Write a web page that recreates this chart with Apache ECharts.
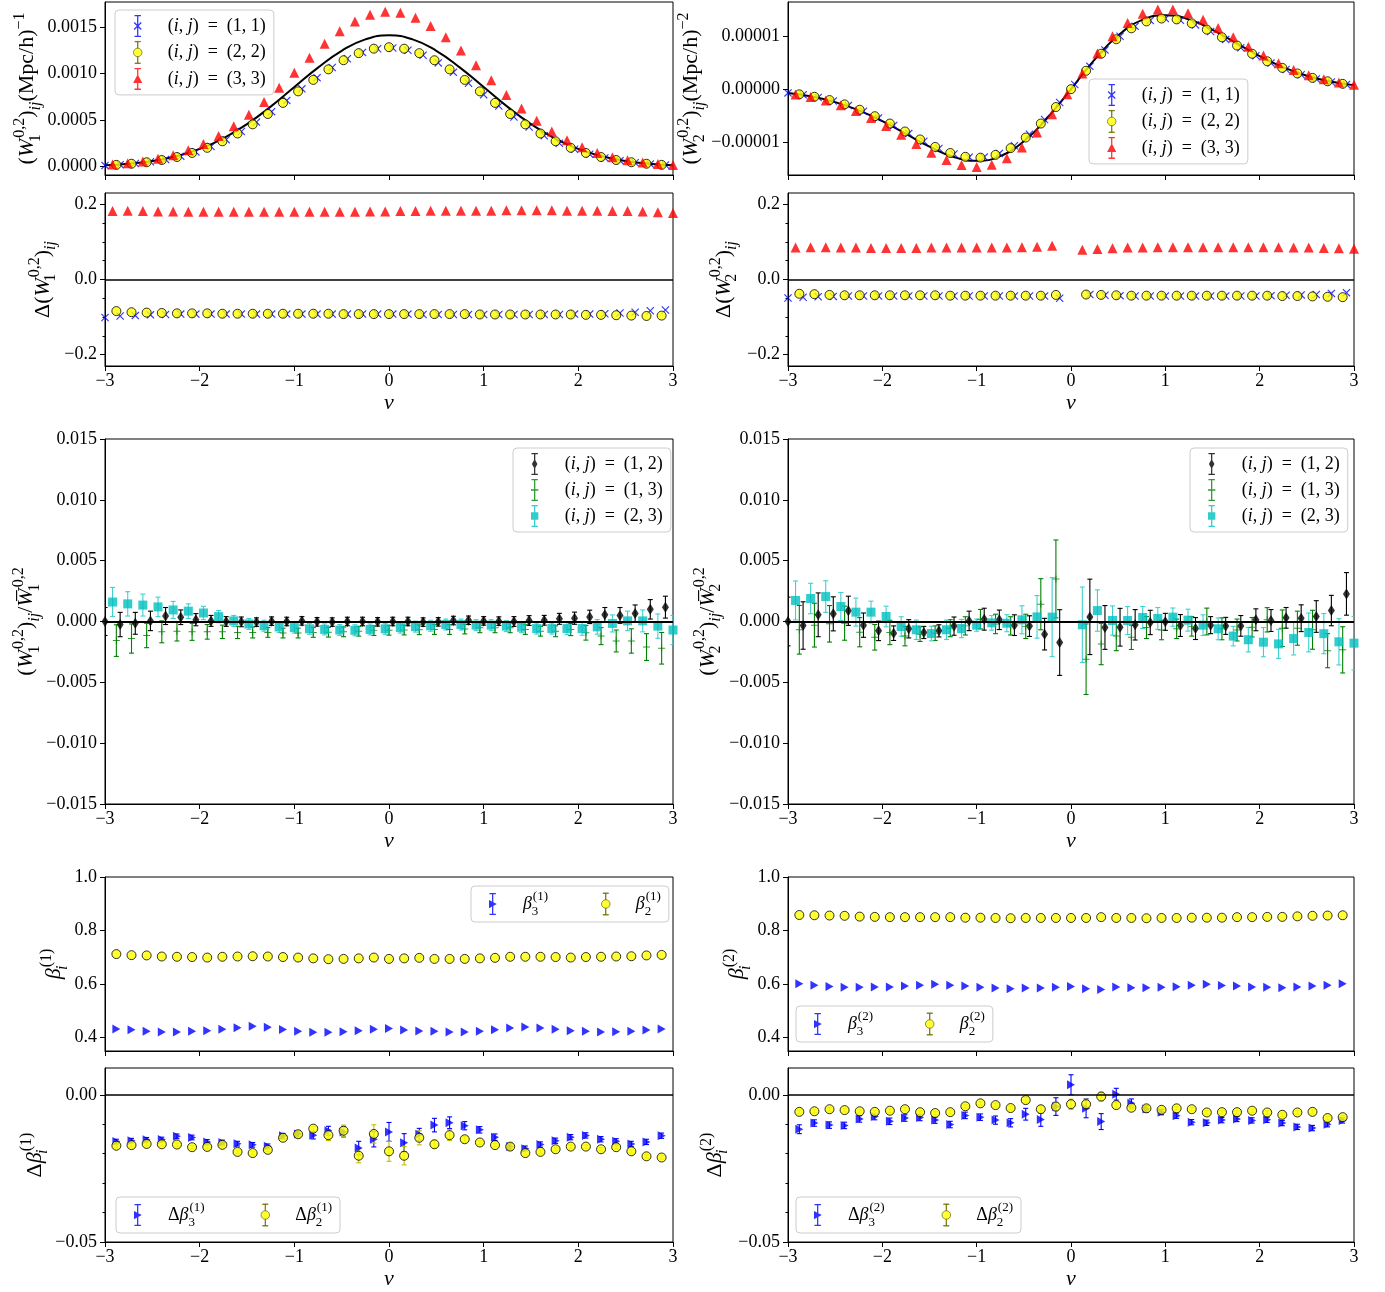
<!DOCTYPE html>
<html><head><meta charset="utf-8">
<script src="https://cdn.jsdelivr.net/npm/echarts@6/dist/echarts.min.js"></script>
<style>html,body{margin:0;padding:0;background:#fff}#c{width:1385px;height:1292px}</style>
</head><body><div id="c"></div>
<script>
// ---------------- DATA ----------------
const NU_A = [-3.00,-2.84,-2.68,-2.52,-2.36,-2.20,-2.04,-1.88,-1.72,-1.56,-1.40,-1.24,-1.08,-0.92,-0.76,-0.60,-0.44,-0.28,-0.12,0.04,0.20,0.36,0.52,0.68,0.84,1.00,1.16,1.32,1.48,1.64,1.80,1.96,2.12,2.28,2.44,2.60,2.76,2.92];
const NU_B = [-2.92,-2.76,-2.60,-2.44,-2.28,-2.12,-1.96,-1.80,-1.64,-1.48,-1.32,-1.16,-1.00,-0.84,-0.68,-0.52,-0.36,-0.20,-0.04,0.12,0.28,0.44,0.60,0.76,0.92,1.08,1.24,1.40,1.56,1.72,1.88,2.04,2.20,2.36,2.52,2.68,2.84,3.00];
const NU_C = [-2.88,-2.72,-2.56,-2.40,-2.24,-2.08,-1.92,-1.76,-1.60,-1.44,-1.28,-1.12,-0.96,-0.80,-0.64,-0.48,-0.32,-0.16,0.00,0.16,0.32,0.48,0.64,0.80,0.96,1.12,1.28,1.44,1.60,1.76,1.92,2.08,2.24,2.40,2.56,2.72,2.88];
const NU_CURVE = [-3,-2.75,-2.5,-2.25,-2,-1.75,-1.5,-1.25,-1,-0.75,-0.5,-0.25,0,0.25,0.5,0.75,1,1.25,1.5,1.75,2,2.25,2.5,2.75,3];

// Row 1 left: W1^{0,2}
const W1_THEORY = [1.6e-5,3.2e-5,6.2e-5,1.12e-4,1.91e-4,3.05e-4,4.58e-4,6.45e-4,8.55e-4,1.064e-3,1.244e-3,1.367e-3,1.410e-3,1.367e-3,1.244e-3,1.064e-3,8.55e-4,6.45e-4,4.58e-4,3.05e-4,1.91e-4,1.12e-4,6.2e-5,3.2e-5,1.6e-5];
const W1_11 = [1.41e-5,2.26e-5,3.52e-5,5.33e-5,7.87e-5,1.134e-4,1.592e-4,2.179e-4,2.907e-4,3.78e-4,4.789e-4,5.914e-4,7.12e-4,8.358e-4,9.56e-4,1.0658e-3,1.1582e-3,1.227e-3,1.2668e-3,1.275e-3,1.2507e-3,1.196e-3,1.1145e-3,1.0128e-3,8.966e-4,7.739e-4,6.514e-4,5.34e-4,4.268e-4,3.325e-4,2.525e-4,1.869e-4,1.349e-4,9.48e-5,6.51e-5,4.34e-5,2.83e-5,1.8e-5];
const W1_22 = [2.0e-5,3.2e-5,4.8e-5,7.2e-5,1.04e-4,1.48e-4,2.03e-4,2.73e-4,3.57e-4,4.55e-4,5.66e-4,6.85e-4,8.09e-4,9.32e-4,1.045e-3,1.143e-3,1.219e-3,1.267e-3,1.283e-3,1.267e-3,1.219e-3,1.143e-3,1.045e-3,9.32e-4,8.09e-4,6.85e-4,5.66e-4,4.55e-4,3.57e-4,2.73e-4,2.03e-4,1.48e-4,1.04e-4,7.2e-5,4.8e-5,3.2e-5,2.0e-5];
const W1_33 = [2.3e-5,3.7e-5,5.7e-5,8.5e-5,1.24e-4,1.76e-4,2.44e-4,3.29e-4,4.34e-4,5.57e-4,6.96e-4,8.49e-4,1.009e-3,1.169e-3,1.321e-3,1.453e-3,1.56e-3,1.631e-3,1.663e-3,1.652e-3,1.6e-3,1.51e-3,1.39e-3,1.247e-3,1.09e-3,9.29e-4,7.71e-4,6.24e-4,4.93e-4,3.79e-4,2.84e-4,2.08e-4,1.48e-4,1.03e-4,7.0e-5,4.6e-5,2.9e-5,1.8e-5];
const D1_11 = [-0.101,-0.097,-0.096,-0.094,-0.093,-0.092,-0.092,-0.092,-0.092,-0.092,-0.092,-0.092,-0.092,-0.092,-0.092,-0.092,-0.092,-0.092,-0.092,-0.092,-0.092,-0.093,-0.093,-0.093,-0.093,-0.093,-0.093,-0.093,-0.093,-0.093,-0.093,-0.092,-0.092,-0.091,-0.089,-0.087,-0.083,-0.081];
const D1_22 = [-0.084,-0.087,-0.088,-0.089,-0.090,-0.090,-0.090,-0.091,-0.091,-0.091,-0.091,-0.091,-0.091,-0.091,-0.091,-0.092,-0.092,-0.092,-0.092,-0.092,-0.092,-0.092,-0.092,-0.092,-0.093,-0.093,-0.093,-0.093,-0.093,-0.093,-0.093,-0.094,-0.094,-0.095,-0.096,-0.097,-0.096];
const D1_33 = [0.182,0.183,0.182,0.181,0.181,0.180,0.180,0.180,0.180,0.180,0.180,0.180,0.180,0.180,0.180,0.180,0.180,0.181,0.181,0.182,0.182,0.183,0.183,0.183,0.183,0.183,0.184,0.184,0.184,0.184,0.183,0.183,0.183,0.182,0.182,0.181,0.179,0.177];

// Row 1 right: W2^{0,2}
const W2_THEORY = [-7.4e-7,-1.39e-6,-2.44e-6,-3.98e-6,-6.01e-6,-8.40e-6,-1.081e-5,-1.270e-5,-1.346e-5,-1.257e-5,-9.79e-6,-5.38e-6,0,5.55e-6,1.010e-5,1.296e-5,1.389e-5,1.311e-5,1.115e-5,8.67e-6,6.20e-6,4.10e-6,2.51e-6,1.44e-6,7.6e-7];
const W2_11 = [-7.0e-7,-1.07e-6,-1.57e-6,-2.23e-6,-3.09e-6,-4.15e-6,-5.4e-6,-6.81e-6,-8.31e-6,-9.8e-6,-1.114e-5,-1.218e-5,-1.278e-5,-1.277e-5,-1.207e-5,-1.063e-5,-8.47e-6,-5.71e-6,-2.5e-6,8.7e-7,4.29e-6,7.38e-6,9.93e-6,1.18e-5,1.291e-5,1.326e-5,1.295e-5,1.208e-5,1.083e-5,9.35e-6,7.79e-6,6.28e-6,4.9e-6,3.7e-6,2.72e-6,1.93e-6,1.34e-6,9.0e-7];
const W2_22 = [-9.7e-7,-1.43e-6,-2.05e-6,-2.86e-6,-3.87e-6,-5.08e-6,-6.46e-6,-7.95e-6,-9.45e-6,-1.085e-5,-1.199e-5,-1.271e-5,-1.287e-5,-1.234e-5,-1.108e-5,-9.09e-6,-6.46e-6,-3.36e-6,0,3.46e-6,6.66e-6,9.38e-6,1.143e-5,1.273e-5,1.327e-5,1.311e-5,1.237e-5,1.119e-5,9.75e-6,8.2e-6,6.66e-6,5.24e-6,4.0e-6,2.95e-6,2.12e-6,1.48e-6,1.0e-6];
const W2_33 = [-9.9e-7,-1.48e-6,-2.13e-6,-3.0e-6,-4.08e-6,-5.4e-6,-6.92e-6,-8.58e-6,-1.03e-5,-1.193e-5,-1.331e-5,-1.427e-5,-1.461e-5,-1.422e-5,-1.3e-5,-1.094e-5,-8.13e-6,-4.72e-6,-9.6e-7,2.96e-6,6.69e-6,9.93e-6,1.245e-5,1.415e-5,1.497e-5,1.497e-5,1.428e-5,1.306e-5,1.148e-5,9.74e-6,7.98e-6,6.33e-6,4.86e-6,3.62e-6,2.62e-6,1.84e-6,1.25e-6,8.3e-7];
const D2_11 = [-0.049,-0.047,-0.046,-0.045,-0.044,-0.044,-0.044,-0.044,-0.044,-0.044,-0.044,-0.044,-0.044,-0.044,-0.044,-0.044,-0.044,-0.044,-0.050,null,-0.040,-0.042,-0.043,-0.044,-0.044,-0.044,-0.044,-0.044,-0.044,-0.044,-0.044,-0.044,-0.043,-0.042,-0.041,-0.040,-0.037,-0.035];
const D2_22 = [-0.038,-0.039,-0.041,-0.042,-0.042,-0.042,-0.042,-0.042,-0.042,-0.042,-0.043,-0.043,-0.043,-0.043,-0.043,-0.043,-0.043,-0.041,null,-0.040,-0.041,-0.042,-0.043,-0.043,-0.043,-0.043,-0.043,-0.043,-0.043,-0.043,-0.043,-0.043,-0.044,-0.044,-0.045,-0.046,-0.047];
const D2_33 = [0.085,0.086,0.086,0.085,0.085,0.084,0.084,0.084,0.084,0.085,0.085,0.085,0.085,0.085,0.085,0.086,0.087,0.090,null,0.079,0.081,0.083,0.085,0.085,0.086,0.086,0.086,0.086,0.086,0.086,0.086,0.086,0.086,0.085,0.085,0.084,0.083,0.082];

// Row 2 left: cross ratios for W1
const R1_12  = [0,-0.00025,-0.00015,0.00005,0.00045,0.00035,0.00015,0.00005,0,-0.00003,-0.00005,0.00003,0,0.00005,-0.00003,-0.00005,0,0,-0.00003,0,0,-0.00005,-0.00003,0.00008,0.0001,0.00005,0.00003,0,0.00008,0.0001,0.00022,0.00027,0.00038,0.00055,0.0005,0.00066,0.001,0.00118];
const R1_12E = [0.00115,0.001,0.0009,0.0008,0.0007,0.0006,0.0005,0.00045,0.0004,0.0004,0.00035,0.00035,0.00035,0.00035,0.00035,0.00035,0.00035,0.00035,0.00035,0.00035,0.00035,0.00035,0.00035,0.00035,0.00035,0.00035,0.00035,0.0004,0.0004,0.0004,0.00045,0.0005,0.00055,0.0006,0.00065,0.0007,0.0008,0.0009];
const R1_13  = [-0.00157,-0.0014,-0.00115,-0.00085,-0.0008,-0.00085,-0.00085,-0.00085,-0.0009,-0.0009,-0.0009,-0.00095,-0.00095,-0.0009,-0.00088,-0.00085,-0.0008,-0.00075,-0.00072,-0.0007,-0.00068,-0.00066,-0.00066,-0.00062,-0.00052,-0.00052,-0.00052,-0.00066,-0.0008,-0.0008,-0.00066,-0.00093,-0.0012,-0.0016,-0.0016,-0.0021,-0.0022];
const R1_13E = [0.0013,0.0012,0.001,0.0009,0.0008,0.0007,0.0006,0.00055,0.0005,0.00045,0.0004,0.0004,0.0004,0.0004,0.0004,0.0004,0.0004,0.0004,0.0004,0.0004,0.0004,0.0004,0.0004,0.0004,0.0004,0.0004,0.0004,0.0004,0.0004,0.00045,0.0005,0.0006,0.0007,0.0009,0.001,0.0011,0.0013];
const R1_23  = [0.0016,0.00145,0.00135,0.0012,0.00095,0.00085,0.0007,0.0004,0.00005,-0.0002,-0.00035,-0.00045,-0.0005,-0.0006,-0.00065,-0.0007,-0.00072,-0.00065,-0.0006,-0.0005,-0.00042,-0.00035,-0.00025,-0.00025,-0.0003,-0.0003,-0.00038,-0.00047,-0.00058,-0.00058,-0.00058,-0.00058,-0.00044,-0.00016,0.00005,0.00005,-0.00038,-0.0007];
const R1_23E = [0.0012,0.001,0.0009,0.0008,0.0007,0.0006,0.00055,0.0005,0.00045,0.00045,0.00045,0.00045,0.00045,0.00045,0.00045,0.00045,0.00045,0.00045,0.00045,0.00045,0.00045,0.00045,0.00045,0.00045,0.00045,0.00045,0.00045,0.00045,0.00045,0.00045,0.0005,0.00055,0.0006,0.0007,0.0008,0.0009,0.001,0.0012];

// Row 2 right: cross ratios for W2
const R2_12  = [0,-0.00033,0.00055,0.00063,0.00088,-0.0003,-0.00077,-0.00096,-0.0006,-0.0009,-0.00077,-0.00038,0.00005,0.00019,0.00014,-0.0003,-0.00038,-0.00104,-0.00173,null,0.00038,-0.00049,-0.00047,-0.00027,-0.00008,-0.00003,-0.00033,-0.00058,-0.0003,-0.00036,-0.00036,0.00014,0.00008,0.0003,0.00027,0.00041,0.0009,0.00227];
const R2_12E = [0.002,0.00195,0.0018,0.0014,0.0012,0.001,0.0008,0.0006,0.00075,0.0005,0.0005,0.00075,0.0008,0.0009,0.0008,0.00085,0.00085,0.0013,0.0027,null,0.0031,0.0018,0.00155,0.00125,0.001,0.0007,0.0009,0.0009,0.0007,0.0007,0.00085,0.0009,0.0009,0.00085,0.0011,0.0013,0.00125,0.00175];
const R2_13  = [-0.00068,-0.0003,-0.00019,-0.00014,-0.00088,-0.0013,-0.0009,-0.0012,-0.00104,-0.00096,-0.00055,-0.00036,0.00019,-0.0002,-0.00036,-0.0004,0.00142,0.0035,null,-0.0031,-0.00185,-0.0012,-0.0013,-0.0005,-0.0007,-0.0006,-0.0004,0,-0.0006,-0.0007,-0.00047,0.00014,-0.00055,-0.00055,-0.00068,-0.0024,-0.00233];
const R2_13E = [0.002,0.0018,0.0015,0.0014,0.0012,0.00105,0.001,0.0008,0.0006,0.0006,0.0007,0.00075,0.0008,0.0008,0.00075,0.001,0.0021,0.0032,null,0.0029,0.0017,0.0012,0.001,0.0009,0.0008,0.0008,0.0008,0.0011,0.0009,0.0009,0.0008,0.001,0.0015,0.0014,0.0016,0.0014,0.0019];
const R2_23  = [0.00173,0.00189,0.00205,0.00123,0.00077,0.00077,0.00041,-0.00041,-0.00068,-0.00099,-0.00068,-0.00058,-0.0003,-0.00011,-0.00014,0.00014,0.00038,0.00036,null,-0.00027,0.0009,0.00008,0.00008,0.00033,0.00025,0.00036,0.00011,-0.0003,-0.0006,-0.0012,-0.0015,-0.0017,-0.00184,-0.0014,-0.0009,-0.001,-0.00167,-0.00178];
const R2_23E = [0.0016,0.00125,0.0013,0.00115,0.00115,0.0009,0.00085,0.0008,0.0008,0.0006,0.0008,0.00075,0.0005,0.0006,0.0007,0.00115,0.00175,0.00325,null,0.0031,0.0017,0.0012,0.00115,0.0009,0.0009,0.00075,0.0009,0.00085,0.0009,0.0008,0.001,0.0012,0.0012,0.00135,0.0016,0.00165,0.0019,0.0022];

// Row 3 left: beta^(1)
const B1_3 = [0.432,0.429,0.424,0.421,0.421,0.424,0.426,0.431,0.437,0.442,0.439,0.430,0.424,0.420,0.420,0.422,0.426,0.431,0.434,0.428,0.425,0.424,0.421,0.421,0.424,0.429,0.436,0.440,0.436,0.431,0.426,0.424,0.421,0.422,0.424,0.428,0.432];
const B1_2 = [0.712,0.708,0.707,0.703,0.702,0.701,0.699,0.702,0.703,0.704,0.703,0.701,0.699,0.696,0.693,0.694,0.696,0.699,0.694,0.696,0.698,0.694,0.694,0.694,0.696,0.698,0.702,0.702,0.702,0.701,0.699,0.701,0.702,0.703,0.704,0.707,0.709];
const DB1_3  = [-0.0159,-0.0156,-0.0153,-0.0152,-0.0141,-0.0145,-0.0160,-0.0162,-0.0166,-0.0170,-0.0175,-0.0139,-0.0133,-0.0137,-0.0122,-0.0126,-0.0181,-0.0151,-0.0126,-0.0163,-0.0134,-0.0103,-0.0095,-0.0105,-0.0119,-0.0144,-0.0176,-0.0183,-0.0169,-0.0156,-0.0144,-0.0138,-0.0151,-0.0158,-0.0167,-0.0160,-0.0139];
const DB1_3E = [0.0008,0.0008,0.0008,0.0008,0.0008,0.0008,0.0008,0.0008,0.0008,0.0008,0.0008,0.0008,0.001,0.0013,0.0015,0.0017,0.0023,0.0026,0.0032,0.0031,0.002,0.0023,0.002,0.0014,0.0011,0.0011,0.0011,0.0009,0.0009,0.0009,0.0009,0.0009,0.0009,0.0009,0.0009,0.0009,0.0009];
const DB1_2  = [-0.0173,-0.0171,-0.0167,-0.0168,-0.0169,-0.0178,-0.0177,-0.0170,-0.0194,-0.0198,-0.0187,-0.0146,-0.0134,-0.0115,-0.0137,-0.0122,-0.0207,-0.0133,-0.0192,-0.0207,-0.0146,-0.0168,-0.0137,-0.0151,-0.0162,-0.0171,-0.0176,-0.0198,-0.0194,-0.0185,-0.0176,-0.0176,-0.0185,-0.0178,-0.0192,-0.0209,-0.0213];
const DB1_2E = [0.0006,0.0006,0.0006,0.0006,0.0006,0.0006,0.0006,0.0006,0.0006,0.0006,0.0006,0.0006,0.0006,0.0008,0.0018,0.0019,0.0024,0.0031,0.0034,0.0031,0.0024,0.0013,0.0018,0.0009,0.0006,0.0006,0.0006,0.0006,0.0006,0.0006,0.0006,0.0006,0.0006,0.0006,0.0006,0.0006,0.0006];

// Row 3 right: beta^(2)
const B2_3 = [0.601,0.596,0.591,0.588,0.588,0.589,0.589,0.593,0.596,0.599,0.596,0.593,0.588,0.585,0.583,0.585,0.585,0.588,0.591,0.583,0.580,0.589,0.586,0.586,0.588,0.590,0.596,0.599,0.595,0.593,0.589,0.588,0.586,0.589,0.593,0.596,0.601];
const B2_2 = [0.858,0.857,0.856,0.855,0.852,0.851,0.850,0.850,0.850,0.850,0.850,0.848,0.848,0.847,0.846,0.847,0.847,0.847,0.847,0.847,0.850,0.847,0.847,0.846,0.847,0.847,0.848,0.848,0.848,0.850,0.850,0.851,0.851,0.853,0.855,0.856,0.857];
const DB2_3  = [-0.0117,-0.0096,-0.0103,-0.0104,-0.0082,-0.0074,-0.0090,-0.0079,-0.0077,-0.0086,-0.0101,-0.0070,-0.0076,-0.0086,-0.0095,-0.0066,-0.0084,-0.0040,0.0034,-0.0046,-0.0091,0.0002,-0.0029,-0.0048,-0.0059,-0.0071,-0.0093,-0.0095,-0.0086,-0.0082,-0.0087,-0.0085,-0.0096,-0.0109,-0.0113,-0.0100,-0.0087];
const DB2_3E = [0.0015,0.0011,0.0011,0.0011,0.0011,0.0011,0.0011,0.0011,0.0011,0.0011,0.0011,0.0011,0.0011,0.0014,0.0014,0.002,0.0023,0.003,0.0034,0.0032,0.0027,0.002,0.0015,0.0011,0.0009,0.0009,0.0009,0.0009,0.0009,0.0009,0.0009,0.0009,0.0009,0.0009,0.0009,0.0009,0.0009];
const DB2_2  = [-0.0058,-0.0056,-0.0049,-0.0052,-0.0056,-0.0058,-0.0054,-0.0049,-0.0059,-0.0062,-0.0059,-0.0039,-0.0029,-0.0035,-0.0045,-0.0018,-0.0049,-0.0040,-0.0032,-0.0032,-0.0006,-0.0035,-0.0044,-0.0046,-0.0051,-0.0046,-0.0049,-0.0060,-0.0059,-0.0059,-0.0054,-0.0060,-0.0068,-0.0060,-0.0058,-0.0079,-0.0076];
const DB2_2E = [0.0006,0.0006,0.0006,0.0006,0.0006,0.0006,0.0006,0.0006,0.0006,0.0006,0.0006,0.0006,0.0006,0.0006,0.0006,0.0009,0.0012,0.0015,0.0017,0.0017,0.0015,0.0009,0.0006,0.0006,0.0006,0.0006,0.0006,0.0006,0.0006,0.0006,0.0006,0.0006,0.0006,0.0006,0.0006,0.0006,0.0006];

// Tick labels
const T_W1 = [0, 0.0005, 0.0010, 0.0015];
const T_W2 = [-0.00001, 0, 0.00001];
const T_D = [-0.2, 0, 0.2];
const T_D_MINOR = [-0.15,-0.1,-0.05,0.05,0.1,0.15];
const T_R = [-0.015,-0.010,-0.005,0,0.005,0.010,0.015];
const T_B = [0.4,0.6,0.8,1.0];
const T_DB = [-0.05, 0];
const T_DB_MINOR = [-0.04,-0.03,-0.02,-0.01];

// ---------------- STYLE / LAYOUT ----------------
const F = '"Liberation Serif","DejaVu Serif",serif';
function mkRich(fs, lh, ratio){
  const s = Math.round(fs*(ratio||0.7));
  const b = {fontFamily:F, color:'#000'};
  return {
    r:{...b, fontSize:fs, lineHeight:lh},
    i:{...b, fontSize:fs, lineHeight:lh, fontStyle:'italic'},
    sup:{...b, fontSize:s, lineHeight:s+2, verticalAlign:'top'},
    sub:{...b, fontSize:s, lineHeight:s+2, verticalAlign:'bottom'},
    subi:{...b, fontSize:s, lineHeight:s+2, verticalAlign:'bottom', fontStyle:'italic'},
    subk:{...b, fontSize:s, lineHeight:s+2, verticalAlign:'bottom', width:1},
    subik:{...b, fontSize:s, lineHeight:s+2, verticalAlign:'bottom', fontStyle:'italic', width:1},
    sp:{...b, fontSize:fs, lineHeight:lh, width:5}
  };
}
const RICH_N = mkRich(22, 32, 0.72);
const RICH_L = mkRich(18, 22);
const RICH_LB = mkRich(18, 28);
const MINUS = '\u2212';
const EN = '\u2002';
const fmt = d => v => (v < 0 ? MINUS : '') + Math.abs(v).toFixed(d);

const COLS = {L:{left:105, width:568}, R:{left:788, width:566}};
const ROWS = {r1a:{top:2,height:173}, r1b:{top:193,height:173}, r2:{top:439,height:365}, r3a:{top:877,height:174}, r3b:{top:1068,height:174}};

const grids=[], xAxes=[], yAxes=[], series=[], legends=[];
function panel(col, row, y, xLabels){
  const gi = grids.length;
  grids.push({left:COLS[col].left, top:ROWS[row].top, width:COLS[col].width, height:ROWS[row].height,
    show:true, borderColor:'#000', borderWidth:1, backgroundColor:'rgba(0,0,0,0)'});
  xAxes.push({type:'value', gridIndex:gi, min:-3, max:3, interval:1,
    axisLine:{show:true, onZero:false, lineStyle:{color:'#000', width:1}},
    axisTick:{show:true, length:5, lineStyle:{color:'#000', width:1}},
    axisLabel:{show:xLabels, color:'#000', fontFamily:F, fontSize:18, margin:6, formatter:fmt(0), showMinLabel:true, showMaxLabel:true},
    splitLine:{show:false},
    name: xLabels ? 'ν' : '', nameLocation:'middle', nameGap:26,
    nameTextStyle:{fontFamily:F, fontSize:22, fontStyle:'italic', color:'#000'}});
  const yi = yAxes.length;
  yAxes.push({type:'value', gridIndex:gi, min:y.min, max:y.max, position:'left',
    axisLine:{show:true, onZero:false, lineStyle:{color:'#000', width:1}},
    axisTick:{show:true, length:5, customValues:y.ticks, lineStyle:{color:'#000', width:1}},
    axisLabel:{customValues:y.ticks, color:'#000', fontFamily:F, fontSize:18, margin:8, formatter:fmt(y.dec), showMinLabel:true, showMaxLabel:true},
    splitLine:{show:false},
    name:y.name, nameLocation:'middle', nameGap:y.gap, nameRotate:90,
    nameTextStyle:{rich:RICH_N, fontFamily:F, fontSize:22, color:'#000'}});
  if (y.minor) {
    yAxes.push({type:'value', gridIndex:gi, min:y.min, max:y.max, position:'left',
      axisLine:{show:false, onZero:false}, axisLabel:{show:false}, splitLine:{show:false},
      axisTick:{show:true, length:2.5, customValues:y.minor, lineStyle:{color:'#000', width:1}}});
  }
  return {x:gi, y:yi};
}

const pairs = (xs, ys) => ys.map((v,i)=> v==null ? null : [xs[i], v]).filter(d=>d);
const triples = (xs, ys, es) => ys.map((v,i)=> v==null ? null : [xs[i], v, es[i]]).filter(d=>d);

const MK = {
  x:{symbol:'path://M0,1L1,0L5,4L9,0L10,1L6,5L10,9L9,10L5,6L1,10L0,9L4,5Z', symbolSize:8, itemStyle:{color:'#0000ff'}},
  o:{symbol:'circle', symbolSize:9, itemStyle:{color:'#ffff00', borderColor:'#000', borderWidth:1}},
  tri:{symbol:'triangle', symbolSize:10, itemStyle:{color:'#ff0000'}},
  d:{symbol:'diamond', symbolSize:[7,11], itemStyle:{color:'#000'}},
  plus:{symbol:'path://M4.3,0H5.7V4.3H10V5.7H5.7V10H4.3V5.7H0V4.3H4.3Z', symbolSize:7, itemStyle:{color:'#008000'}},
  sq:{symbol:'rect', symbolSize:9, itemStyle:{color:'#00bfbf'}},
  rt:{symbol:'path://M0,0L10,5L0,10Z', symbolSize:[8,9], itemStyle:{color:'#0000ff'}}
};
const BAR = 'M7.3,0H8.7V24H7.3Z M4.5,0H11.5V1.4H4.5Z M4.5,22.6H11.5V24H4.5Z ';
const BARSPLIT = 'M7.8,0.6H8.2V7.5H7.8Z M7.8,16.5H8.2V23.4H7.8Z M5,0.4H11V0.8H5Z M5,23.2H11V23.6H5Z ';
const ICON = {
  x:'path://' + BAR + 'M3.6,8.6L4.6,7.6L8,11L11.4,7.6L12.4,8.6L9,12L12.4,15.4L11.4,16.4L8,13L4.6,16.4L3.6,15.4L7,12Z',
  o:'path://' + BARSPLIT + 'M12.5,12A4.5,4.5 0 1,1 3.5,12A4.5,4.5 0 1,1 12.5,12Z',
  tri:'path://' + BAR + 'M8,7L13,16.5L3,16.5Z',
  d:'path://' + BAR + 'M8,6.5L11,12L8,17.5L5,12Z',
  plus:'path://' + BAR + 'M4,11.3H12V12.7H4Z',
  sq:'path://' + BAR + 'M4,8H12V16H4Z',
  rt:'path://' + BAR + 'M4,7.5L12.5,12L4,16.5Z'
};
const YELLOW_ICON_STYLE = {color:'#ffff00', borderColor:'#6b6b00', borderWidth:0.9};

function scat(P, name, xs, ys, mk, z){
  return {type:'scatter', name, xAxisIndex:P.x, yAxisIndex:P.y, data:pairs(xs, ys),
    symbol:mk.symbol, symbolSize:mk.symbolSize, itemStyle:mk.itemStyle, z:z||3, silent:true, animation:false};
}
function curve(P, xs, ys){
  return {type:'line', xAxisIndex:P.x, yAxisIndex:P.y, data:pairs(xs, ys), smooth:true, showSymbol:false,
    lineStyle:{color:'#000', width:2}, z:2, silent:true, animation:false};
}
function errBars(P, xs, ys, es, color){
  return {type:'custom', xAxisIndex:P.x, yAxisIndex:P.y, data:triples(xs, ys, es), silent:true, clip:true, z:2, animation:false,
    encode:{x:0, y:1},
    renderItem:(params, api)=>{
      const x=api.value(0), y=api.value(1), e=api.value(2);
      const a=api.coord([x, y+e]), b=api.coord([x, y-e]);
      const st={stroke:color, lineWidth:1.1, fill:null};
      return {type:'group', children:[
        {type:'line', shape:{x1:a[0], y1:a[1], x2:b[0], y2:b[1]}, style:st},
        {type:'line', shape:{x1:a[0]-2.5, y1:a[1], x2:a[0]+2.5, y2:a[1]}, style:st},
        {type:'line', shape:{x1:b[0]-2.5, y1:b[1], x2:b[0]+2.5, y2:b[1]}, style:st}]};
    }};
}
function zeroLine(P, w){
  return {type:'line', xAxisIndex:P.x, yAxisIndex:P.y, data:[], silent:true, z:4, animation:false,
    markLine:{silent:true, symbol:['none','none'], label:{show:false}, animation:false,
      lineStyle:{color:'#000', width:w, type:'solid'}, data:[{yAxis:0}]}};
}
const LABELS = {};
function legend(items, left, top, orient, gap, rich){
  return {show:true, orient, left, top, itemWidth:40, itemHeight:22, itemGap:gap,
    padding: orient==='vertical' ? [5,8,5,18] : [4,8,4,18],
    backgroundColor:'rgba(255,255,255,0.85)', borderColor:'#cccccc', borderWidth:1, borderRadius:4,
    selectedMode:false,
    data:items.map(it=> it[1]===ICON.o ? {name:it[0], icon:it[1], itemStyle:YELLOW_ICON_STYLE} : {name:it[0], icon:it[1]}),
    formatter:n=>LABELS[n], textStyle:{rich, color:'#000', fontFamily:F, fontSize:18}};
}
const ijLabel = s => '{sp| }{r|(}{i|i}{r|, }{i|j}{r|)' + EN + '=' + EN + '(' + s + ')}';

// ---------------- PANELS ----------------
// Row 1 left
const P1a = panel('L','r1a',{min:-0.0000887, max:0.001768, ticks:T_W1, dec:4, gap:60,
  name:'{r|(}{i|W}{subk|1}{sup|0,2}{r|)}{subi|ij}{r|(Mpc/h)}{sup|'+MINUS+'1}'}, false);
series.push(curve(P1a, NU_CURVE, W1_THEORY));
series.push(scat(P1a, 'a11', NU_A, W1_11, MK.x, 3));
series.push(scat(P1a, 'a22', NU_C, W1_22, MK.o, 4));
series.push(scat(P1a, 'a33', NU_B, W1_33, MK.tri, 5));
LABELS.a11 = ijLabel('1, 1'); LABELS.a22 = ijLabel('2, 2'); LABELS.a33 = ijLabel('3, 3');
legends.push(legend([['a11',ICON.x],['a22',ICON.o],['a33',ICON.tri]], 115, 10, 'vertical', 4, RICH_L));

const P1b = panel('L','r1b',{min:-0.23, max:0.23, ticks:T_D, dec:1, gap:46, minor:T_D_MINOR,
  name:'{r|Δ(}{i|W}{subk|1}{sup|0,2}{r|)}{subi|ij}'}, true);
series.push(zeroLine(P1b, 1.6));
series.push(scat(P1b, 'd11', NU_A, D1_11, MK.x, 3));
series.push(scat(P1b, 'd22', NU_C, D1_22, MK.o, 4));
series.push(scat(P1b, 'd33', NU_B, D1_33, MK.tri, 5));

// Row 1 right
const Q1a = panel('R','r1a',{min:-1.613e-5, max:1.638e-5, ticks:T_W2, dec:5, gap:78,
  name:'{r|(}{i|W}{subk|2}{sup|0,2}{r|)}{subi|ij}{r|(Mpc/h)}{sup|'+MINUS+'2}'}, false);
series.push(curve(Q1a, NU_CURVE, W2_THEORY));
series.push(scat(Q1a, 'b11', NU_A, W2_11, MK.x, 3));
series.push(scat(Q1a, 'b22', NU_C, W2_22, MK.o, 4));
series.push(scat(Q1a, 'b33', NU_B, W2_33, MK.tri, 5));
LABELS.b11 = ijLabel('1, 1'); LABELS.b22 = ijLabel('2, 2'); LABELS.b33 = ijLabel('3, 3');
legends.push(legend([['b11',ICON.x],['b22',ICON.o],['b33',ICON.tri]], 1089, 79, 'vertical', 4, RICH_L));

const Q1b = panel('R','r1b',{min:-0.23, max:0.23, ticks:T_D, dec:1, gap:48, minor:T_D_MINOR,
  name:'{r|Δ(}{i|W}{subk|2}{sup|0,2}{r|)}{subi|ij}'}, true);
series.push(zeroLine(Q1b, 1.6));
series.push(scat(Q1b, 'e11', NU_A, D2_11, MK.x, 3));
series.push(scat(Q1b, 'e22', NU_C, D2_22, MK.o, 4));
series.push(scat(Q1b, 'e33', NU_B, D2_33, MK.tri, 5));

// Row 2 left
const P2 = panel('L','r2',{min:-0.015, max:0.015, ticks:T_R, dec:3, gap:61,
  name:'{r|(}{i|W}{subk|1}{sup|0,2}{r|)}{subi|ij}{r|/}{i|W\u0305}{subk|1}{sup|0,2}'}, true);
series.push(errBars(P2, NU_A, R1_12, R1_12E, '#000'));
series.push(errBars(P2, NU_C, R1_13, R1_13E, '#008000'));
series.push(errBars(P2, NU_B, R1_23, R1_23E, '#3fd0d0'));
series.push(scat(P2, 'c12', NU_A, R1_12, MK.d, 3));
series.push(scat(P2, 'c13', NU_C, R1_13, MK.plus, 3));
series.push(scat(P2, 'c23', NU_B, R1_23, MK.sq, 3));
series.push(zeroLine(P2, 2));
LABELS.c12 = ijLabel('1, 2'); LABELS.c13 = ijLabel('1, 3'); LABELS.c23 = ijLabel('2, 3');
legends.push(legend([['c12',ICON.d],['c13',ICON.plus],['c23',ICON.sq]], 513, 448, 'vertical', 4, RICH_L));

// Row 2 right
const Q2 = panel('R','r2',{min:-0.015, max:0.015, ticks:T_R, dec:3, gap:64,
  name:'{r|(}{i|W}{subk|2}{sup|0,2}{r|)}{subi|ij}{r|/}{i|W\u0305}{subk|2}{sup|0,2}'}, true);
series.push(errBars(Q2, NU_A, R2_12, R2_12E, '#000'));
series.push(errBars(Q2, NU_C, R2_13, R2_13E, '#008000'));
series.push(errBars(Q2, NU_B, R2_23, R2_23E, '#3fd0d0'));
series.push(scat(Q2, 'h12', NU_A, R2_12, MK.d, 3));
series.push(scat(Q2, 'h13', NU_C, R2_13, MK.plus, 3));
series.push(scat(Q2, 'h23', NU_B, R2_23, MK.sq, 3));
series.push(zeroLine(Q2, 2));
LABELS.h12 = ijLabel('1, 2'); LABELS.h13 = ijLabel('1, 3'); LABELS.h23 = ijLabel('2, 3');
legends.push(legend([['h12',ICON.d],['h13',ICON.plus],['h23',ICON.sq]], 1190, 448, 'vertical', 4, RICH_L));

// Row 3 left
const P3a = panel('L','r3a',{min:0.35, max:1.0, ticks:T_B, dec:1, gap:22,
  name:'{i|β}{subik|i}{sup|(1)}'}, false);
series.push(scat(P3a, 'f3', NU_C, B1_3, MK.rt, 3));
series.push(scat(P3a, 'f2', NU_C, B1_2, MK.o, 4));
LABELS.f3 = '{sp| }{i|β}{subk|3}{sup|(1)}'; LABELS.f2 = '{sp| }{i|β}{subk|2}{sup|(1)}';
legends.push(legend([['f3',ICON.rt],['f2',ICON.o]], 471, 886, 'horizontal', 53, RICH_LB));

const P3b = panel('L','r3b',{min:-0.05, max:0.0091, ticks:T_DB, dec:2, gap:54, minor:T_DB_MINOR,
  name:'{r|Δ}{i|β}{subik|i}{sup|(1)}'}, true);
series.push(zeroLine(P3b, 1.6));
series.push(errBars(P3b, NU_C, DB1_3, DB1_3E, '#0000ff'));
series.push(errBars(P3b, NU_C, DB1_2, DB1_2E, '#bfbf00'));
series.push(scat(P3b, 'g3', NU_C, DB1_3, MK.rt, 3));
series.push(scat(P3b, 'g2', NU_C, DB1_2, MK.o, 4));
LABELS.g3 = '{sp| }{r|Δ}{i|β}{subk|3}{sup|(1)}'; LABELS.g2 = '{sp| }{r|Δ}{i|β}{subk|2}{sup|(1)}';
legends.push(legend([['g3',ICON.rt],['g2',ICON.o]], 116, 1197, 'horizontal', 56, RICH_LB));

// Row 3 right
const Q3a = panel('R','r3a',{min:0.35, max:1.0, ticks:T_B, dec:1, gap:25,
  name:'{i|β}{subik|i}{sup|(2)}'}, false);
series.push(scat(Q3a, 'k3', NU_C, B2_3, MK.rt, 3));
series.push(scat(Q3a, 'k2', NU_C, B2_2, MK.o, 4));
LABELS.k3 = '{sp| }{i|β}{subk|3}{sup|(2)}'; LABELS.k2 = '{sp| }{i|β}{subk|2}{sup|(2)}';
legends.push(legend([['k3',ICON.rt],['k2',ICON.o]], 796, 1006, 'horizontal', 52, RICH_LB));

const Q3b = panel('R','r3b',{min:-0.05, max:0.0091, ticks:T_DB, dec:2, gap:57, minor:T_DB_MINOR,
  name:'{r|Δ}{i|β}{subik|i}{sup|(2)}'}, true);
series.push(zeroLine(Q3b, 1.6));
series.push(errBars(Q3b, NU_C, DB2_3, DB2_3E, '#0000ff'));
series.push(errBars(Q3b, NU_C, DB2_2, DB2_2E, '#bfbf00'));
series.push(scat(Q3b, 'm3', NU_C, DB2_3, MK.rt, 3));
series.push(scat(Q3b, 'm2', NU_C, DB2_2, MK.o, 4));
LABELS.m3 = '{sp| }{r|Δ}{i|β}{subk|3}{sup|(2)}'; LABELS.m2 = '{sp| }{r|Δ}{i|β}{subk|2}{sup|(2)}';
legends.push(legend([['m3',ICON.rt],['m2',ICON.o]], 796, 1197, 'horizontal', 57, RICH_LB));

const chart = echarts.init(document.getElementById('c'), null, {renderer:'canvas', width:1385, height:1292});
chart.setOption({animation:false, backgroundColor:'#fff', grid:grids, xAxis:xAxes, yAxis:yAxes, series, legend:legends, tooltip:{show:false}});
</script>
</body></html>
